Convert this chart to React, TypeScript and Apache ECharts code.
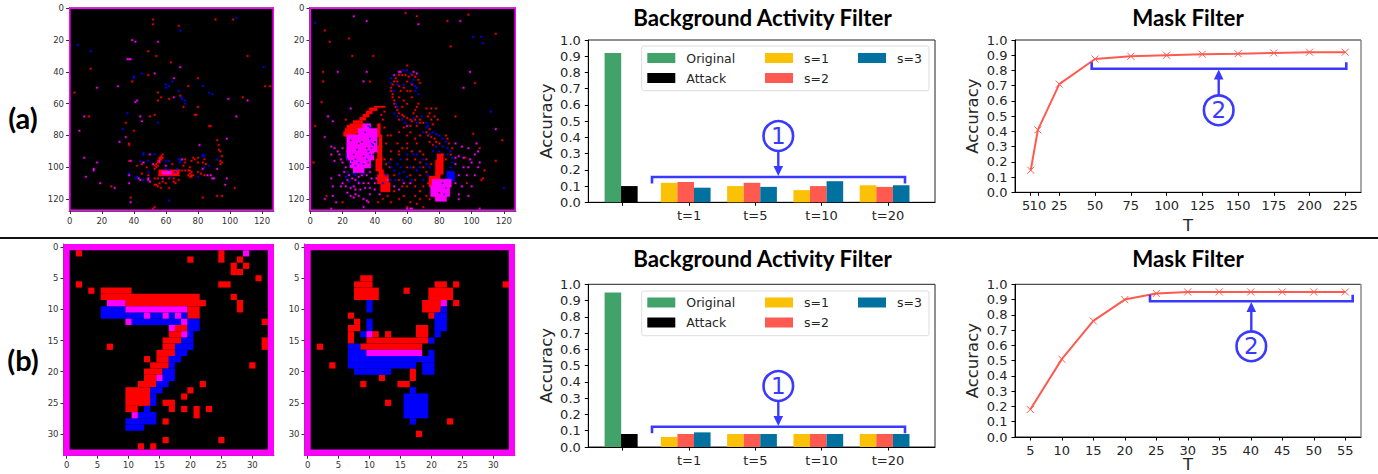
import React, { useEffect, useRef } from "react";
import * as echarts from "echarts";

// ---------- data ----------
const groupLabels = ["", "t=1", "t=5", "t=10", "t=20"];
const legendColumns = [["Original", "Attack"], ["s=1", "s=2"], ["s=3"]];

const barAOriginal = 0.92;
const barAAttack = 0.1;
const barAS1 = [0.12, 0.1, 0.075, 0.105];
const barAS2 = [0.125, 0.12, 0.1, 0.095];
const barAS3 = [0.09, 0.095, 0.13, 0.105];

const barBOriginal = 0.95;
const barBAttack = 0.08;
const barBS1 = [0.062, 0.08, 0.08, 0.08];
const barBS2 = [0.08, 0.08, 0.08, 0.08];
const barBS3 = [0.09, 0.08, 0.08, 0.08];

const maskAT = [5, 10, 25, 50, 75, 100, 125, 150, 175, 200, 225];
const maskAAcc = [0.145, 0.41, 0.71, 0.875, 0.893, 0.9, 0.907, 0.91, 0.915, 0.92, 0.92];
const maskBT = [5, 10, 15, 20, 25, 30, 35, 40, 45, 50, 55];
const maskBAcc = [0.18, 0.51, 0.76, 0.9, 0.94, 0.95, 0.95, 0.95, 0.95, 0.95, 0.95];

type P = number[];
// event frame (a) left: isolated events [x, y]
const a1Red: P[] = [[52,7],[52,10],[68,11],[91,7],[102,7],[49,27],[54,30],[111,30],[63,34],[13,38],[49,42],[39,46],[80,44],[3,53],[55,53],[74,49],[122,49],[125,49],[57,56],[69,55],[62,57],[108,56],[55,58],[71,62],[80,62],[12,68],[50,68],[53,67],[78,67],[79,67],[35,72],[87,74],[88,74],[40,77],[92,83],[37,85],[37,86],[93,86],[93,89],[94,90],[95,93],[95,97],[94,98],[94,96],[26,112],[103,113],[92,118],[95,118],[83,119],[38,119],[52,126],[53,125],
[58,92],[57,93],[56,94],[56,95],[55,96],[55,97],[54,98],[53,99],[54,100],[57,94],[58,94],[57,95],[56,97],[55,99],[53,101],
[75,100],[74,102],[75,104],[76,105],[77,105],[74,105],[75,102],[76,103],[75,106],[76,106],[72,95],[72,97],[71,99],[68,102],[84,95],[80,94],[77,94],[78,95],[76,96],[80,97],[83,97],[85,98],[80,103],[82,104],[84,105],[37,96],[42,99],[45,98],[48,100],[64,98],[45,104],[49,105],[53,107],[55,107],[56,105],[54,111],[53,111],[56,110],[58,109],[55,112],[57,113],[62,113],[60,110],[65,109],[66,110],[68,108],[65,107],[62,107],[70,102],[72,102]];
const a1Blue: P[] = [[104,6],[69,14],[5,23],[13,27],[121,37],[45,41],[40,43],[40,44],[64,46],[60,48],[60,50],[62,49],[68,52],[83,49],[87,53],[89,54],[70,56],[70,57],[72,58],[72,60],[36,66],[55,72],[33,76],[92,95],[62,121],
[46,91],[46,92],[44,96],[68,95],[69,96],[69,97],[83,92],[83,93],[84,93],[87,99],[84,100],[80,106],[37,104],[42,106],[41,107],[46,108],[49,103],[53,92],[49,96],[60,96],[62,96],[60,101],[62,102],[66,103],[63,106],[67,101]];
const a1Magenta: P[] = [[39,20],[41,21],[55,21],[36,32],[37,32],[38,32],[69,37],[53,41],[65,44],[30,49],[17,50],[65,56],[99,57],[111,58],[42,58],[41,59],[9,68],[44,68],[104,68],[45,71],[6,77],[35,81],[98,82],[31,84],[81,86],[9,94],[17,97],[15,101],[15,102],[10,106],[19,110],[28,113],[92,101],[98,107],[97,111],[38,122],
[70,95],[56,96],[83,101],[86,105],[88,105],[89,107],[90,107],[38,96],[46,97],[52,98],[50,92],[60,99],[37,105],[43,107],[44,108],[49,107],[49,108],[50,109],[37,110],[58,107]];
// event frame (a) left: dense blocks [x0, y0, x1, y1]
const a1RedBlocks: P[] = [[56,102,68,105]];
const a1MagentaBlocks: P[] = [[58,103,63,104]];

// event frame (a) right
const a2Red: P[] = [[59,3],[66,5],[98,4],[85,8],[9,14],[12,21],[24,19],[115,16],[87,24],[26,30],[39,30],[8,40],[8,46],[37,46],[102,47],[7,59],[90,68],[22,70],[3,74],[101,79],[119,83],[60,36],
[52,46],[51,48],[50,50],[50,52],[51,54],[51,56],[52,58],[52,60],[53,62],[54,64],[55,66],[57,67],[58,68],[60,69],[62,70],[63,71],[65,70],[66,68],[64,66],[65,64],[66,62],[67,60],[63,56],[60,52],[58,50],[55,49],[54,46],[53,44],[55,42],[57,42],[59,42],[61,43],[63,42],[65,43],[67,45],[68,47],[63,48],[60,46],[56,52],[62,52],[55,56],[58,58],[60,60],[57,62],[68,72],[70,72],[66,74],[68,70],[62,74],
[73,68],[75,70],[77,68],[79,70],[76,73],[74,76],[72,78],[73,80],[75,81],[77,82],[78,84],[80,85],[74,84],[76,86],[84,80],[85,82],[86,85],[88,88],[87,92],[82,92],[84,95],[74,66],[78,63],[72,63],[75,63],
[54,85],[55,90],[55,92],[57,88],[60,85],[63,90],[66,85],[68,90],[65,95],[60,95],[70,92],[72,95],[68,97],[64,100],[60,100],[70,100],[72,103],[68,105],[65,108],[62,105],[75,98],[50,95],[49,100],[46,95],[47,98],[52,105],[55,108],[57,112],[60,112],[65,112],[68,115],[70,112],[73,110],[72,118],[68,120],[65,118],[62,122],[60,125],[55,120],[50,122],[48,118],[45,120],[52,115],[58,118],[66,123],[70,125],[74,120],[60,80],[58,75],[55,78],[50,80],[46,75],[48,80],[47,85],[50,90],[45,70],[44,67],[46,65],[55,70],[62,78],[65,82],[60,88],[68,80],[107,107],[106,108],[97,110],[115,96],[108,102],[105,88],[96,94],[2,97],[10,118],[20,122],[42,122]];
const a2Blue: P[] = [[3,9],[101,18],[106,18],[107,22],[112,65],[120,113],
[50,44],[50,47],[58,39],[60,39],[62,41],[64,45],[63,47],[65,49],[66,50],[65,52],[67,54],[54,48],[52,52],[53,60],[54,62],[54,68],[57,70],[59,72],[64,69],[69,68],[72,72],[66,72],[52,66],[58,48],
[72,75],[74,79],[70,78],[73,74],[76,78],[78,79],[80,80],[82,82],[84,84],[82,87],[85,88],[87,90],[88,94],[88,97],[87,100],[86,103],[78,87],[80,90],[76,90],[85,92],
[49,97],[50,100],[52,102],[54,98],[47,105],[50,108],[53,108],[56,100],[58,103],[60,106],[62,100],[66,102],[68,100],[70,95],[72,98],[64,92],[60,92],[56,95],[66,92],[74,100],[55,104],[63,108],[70,108],[73,105],[45,110],[57,108],
[23,103],[24,105],[27,104],[30,103],[33,104],[22,106],[24,109],[28,105],[30,109]];
const a2Magenta: P[] = [[27,5],[35,8],[93,8],[67,10],[17,40],[35,40],[99,40],[33,46],[95,50],[25,63],[11,68],[14,71],[115,76],[9,81],[13,87],[56,40],[55,40],[64,40],[66,41],[52,42],[60,74],
[15,88],[17,90],[13,92],[18,92],[20,88],[19,95],[15,96],[20,97],[22,100],[18,105],[21,103],[24,105],[26,107],[23,108],[28,108],[30,106],[32,105],[35,105],[37,103],[38,107],[36,110],[33,110],[30,110],[27,112],[25,113],[28,114],[31,114],[34,113],[37,113],[40,110],[41,107],[28,117],[30,118],[27,119],[33,120],[35,121],[25,118],[40,114],[37,117],[43,117],[36,122],[33,125],[20,110],[13,107],[14,112],[16,122],[13,126],[9,120],[14,118],[23,116],[19,112],[22,112],[48,108],[52,112],[55,114],[58,110],[62,110],
[92,93],[95,94],[100,97],[102,92],[99,95],[104,90],[105,97],[104,100],[102,105],[98,100],[95,100],[92,105],[94,112],[90,110],[92,117],[98,118],[92,120],[105,126],[100,112],[97,105],[90,98],[90,94],[103,85],[94,87],[90,85],[98,88],[60,126],[62,126],[63,126]];
const a2RedBlocks: P[] = [[40,62,46,62],[37,63,41,64],[35,65,38,66],[33,67,36,68],[31,69,34,70],[27,71,32,72],[25,73,30,74],[23,74,28,75],[22,76,25,77],[21,78,23,80],[22,78,28,80],[24,76,31,78],[28,73,33,76],
[42,73,43,80],[43,80,44,87],[42,87,44,95],[41,95,44,102],[43,102,45,105],[42,105,48,110],[44,110,49,115],
[79,92,82,96],[78,96,82,104],[78,104,80,108],[74,106,78,112],[78,114,80,120]];
const a2BlueBlocks: P[] = [[85,103,89,108]];
const a2MagentaBlocks: P[] = [[33,73,37,76],[30,76,41,80],[23,80,41,90],[23,90,39,95],[25,95,37,100],[27,100,33,103],[76,108,84,112],[75,112,86,118],[78,118,84,121],[84,108,87,112]];
const a2BlobBlue: P[] = [[36,90],[37,92],[35,95],[30,97],[28,99],[33,98],[26,96],[37,82],[38,85],[36,74],[37,75],[23,95],[22,92],[25,98],[34,78],[39,86],[84,113],[83,117]];
const a2BlobBlack: P[] = [[25,83],[30,85],[38,88],[27,92],[36,97],[32,84],[28,95],[33,93],[39,92],[24,97],[40,84],[35,88],[29,89],[82,110],[80,116]];

// digit frames (b): blocks [x0, y0, x1, y1]
const b1Red: P[] = [[2,1,2,1],[25,1,25,2],[20,2,20,2],[28,2,28,2],[27,3,27,4],[29,3,29,3],[28,4,28,4],[31,5,31,5],[2,6,2,6],[25,6,26,6],[4,7,4,7],[6,7,10,7],[6,8,21,8],[27,8,27,8],[10,9,22,9],[28,9,28,10],[20,10,21,11],[32,12,32,12],[18,13,19,13],[17,14,18,14],[16,15,18,15],[32,15,32,16],[16,16,17,16],[7,16,7,16],[15,17,17,17],[15,18,16,18],[13,18,13,18],[14,19,16,19],[30,19,30,19],[13,20,15,20],[13,21,14,21],[12,22,14,22],[22,22,22,22],[10,23,13,25],[20,23,20,23],[19,24,19,24],[16,25,17,25],[10,26,11,26],[17,26,17,26],[19,26,19,26],[21,26,21,27],[23,26,23,26],[16,28,16,28],[16,31,16,31],[25,31,25,31],[12,32,12,32],[14,32,14,32]];
const b1Blue: P[] = [[6,10,9,11],[10,11,12,11],[14,11,15,11],[17,11,17,11],[19,11,19,11],[11,12,19,12],[20,12,21,13],[20,14,20,14],[19,15,20,15],[18,16,20,16],[18,17,19,17],[17,18,18,18],[17,19,17,19],[16,20,17,21],[15,22,16,22],[14,23,15,23],[14,24,14,25],[13,26,13,26],[12,27,14,27],[10,28,14,28],[10,29,12,29]];
const b1Magenta: P[] = [[29,1,29,1],[7,9,9,9],[10,10,19,10],[13,11,13,11],[16,11,16,11],[18,11,18,11],[10,12,10,12],[19,12,19,12],[17,13,17,13],[19,14,19,14],[15,21,15,21],[11,27,11,27]];
const b2Red: P[] = [[9,5,10,5],[8,6,10,6],[21,6,22,6],[24,6,24,6],[32,6,32,6],[8,7,11,8],[16,7,16,7],[20,7,23,8],[19,9,21,10],[24,9,24,9],[7,11,7,11],[20,11,20,11],[8,12,8,12],[7,13,8,13],[18,13,19,14],[7,14,7,15],[11,14,11,14],[13,14,13,14],[10,15,19,15],[2,16,2,16],[9,16,18,16],[4,19,4,19],[17,20,17,21],[12,21,12,21],[9,22,9,22],[15,22,16,22],[13,25,13,25],[23,28,23,28],[18,30,18,30]];
const b2Blue: P[] = [[10,9,10,10],[22,10,22,10],[21,11,22,13],[10,12,10,13],[9,14,9,14],[21,14,21,14],[20,15,20,15],[7,16,8,16],[7,17,9,17],[20,17,20,17],[7,18,20,18],[7,19,17,19],[19,19,20,20],[8,20,13,20],[17,23,17,23],[16,24,19,27],[17,28,17,28]];
const b2Magenta: P[] = [[22,9,22,9],[10,14,10,14],[10,17,18,17]];

// ---------- styling ----------
const GREEN = "#41A36A";
const YELLOW = "#FBC107";
const RED = "#FF5A50";
const TEAL = "#01719F";
const ANNOT = "#3A3AFF";
const FONT = "'DejaVu Sans'";
const TITLEFONT = "Lato";

const toBlocks = (pts: P[]) => pts.map((p) => [p[0], p[1], p[0], p[1]]);

function blockSeries(idx: number, data: P[], color: string, halo: number) {
  return {
    type: "custom",
    xAxisIndex: idx,
    yAxisIndex: idx,
    silent: true,
    encode: { x: [0, 2], y: [1, 3] },
    data,
    renderItem: (_: any, api: any) => {
      const a = api.coord([api.value(0) - 0.5, api.value(1) - 0.5]);
      const b = api.coord([api.value(2) + 0.5, api.value(3) + 0.5]);
      const core = { type: "rect", shape: { x: a[0], y: a[1], width: b[0] - a[0], height: b[1] - a[1] }, style: { fill: color } };
      if (!halo) return core;
      return {
        type: "group",
        children: [
          { type: "rect", shape: { x: a[0] - halo, y: a[1] - halo, width: b[0] - a[0] + 2 * halo, height: b[1] - a[1] + 2 * halo }, style: { fill: color, opacity: 0.22 } },
          core,
        ],
      };
    },
  };
}

function frameBorder(idx: number, max: number) {
  const border = [[0, 0, max, 0], [0, max, max, max], [0, 0, 0, max], [max, 0, max, max]];
  return blockSeries(idx, border, "#FF00FF", 0);
}

function frameAxes(idx: number, max: number, step: number) {
  const ticks: number[] = [];
  for (let v = 0; v <= max; v += step) ticks.push(v);
  const common = {
    gridIndex: idx,
    type: "value",
    min: -0.5,
    max: max + 0.5,
    splitLine: { show: false },
    axisLine: { onZero: false, lineStyle: { color: "#555", width: 1 } },
    axisTick: { length: 3, lineStyle: { color: "#333" }, customValues: ticks },
    axisLabel: { fontFamily: FONT, fontSize: 8.5, color: "#333", margin: 5, customValues: ticks },
  };
  return { x: { ...common }, y: { ...common, inverse: true } };
}

const tenth = (v: number) => v.toFixed(1);

function accAxis(idx: number, gap: number) {
  return {
    gridIndex: idx,
    type: "value",
    min: 0,
    max: 1,
    interval: 0.1,
    name: "Accuracy",
    nameLocation: "middle",
    nameGap: gap,
    nameTextStyle: { fontFamily: FONT, fontSize: 16.5, color: "#262626" },
    splitLine: { show: false },
    axisLine: { show: true, onZero: false, lineStyle: { color: "#000" } },
    axisTick: { show: true, length: 3.5, lineStyle: { color: "#000" } },
    axisLabel: { fontFamily: FONT, fontSize: 13, color: "#262626", margin: 7.5, formatter: tenth },
  };
}

const BAR_W = 16.6;
function barSeries(idx: number, orig: number, atk: number, s1: number[], s2: number[], s3: number[]) {
  const base = { type: "bar", xAxisIndex: idx, yAxisIndex: idx, barWidth: BAR_W, barGap: "-100%", silent: true };
  const shifted = (vals: number[], off: number) => vals.map((v, i) => [i + 1 - 0.05 + off, v]);
  return [
    { ...base, name: "Original", itemStyle: { color: GREEN }, data: [[-0.148, orig]] },
    { ...base, name: "Attack", itemStyle: { color: "#000" }, data: [[0.1, atk]] },
    { ...base, name: "s=1", itemStyle: { color: YELLOW }, data: shifted(s1, -0.25) },
    { ...base, name: "s=2", itemStyle: { color: RED }, data: shifted(s2, 0) },
    { ...base, name: "s=3", itemStyle: { color: TEAL }, data: shifted(s3, 0.25) },
  ];
}

function lineSeries(idx: number, xs: number[], ys: number[]) {
  return {
    type: "line",
    xAxisIndex: idx,
    yAxisIndex: idx,
    silent: true,
    data: xs.map((x, i) => [x, ys[i]]),
    lineStyle: { color: RED, width: 2 },
    symbol: "path://M0 0L10 10M10 0L0 10",
    symbolSize: 7,
    showAllSymbol: true,
    itemStyle: { color: "rgba(0,0,0,0)", borderColor: RED, borderWidth: 1 },
  };
}

function legends(top: number) {
  const lefts = [647.3, 765, 858];
  return legendColumns.map((names, i) => ({
    orient: "vertical",
    left: lefts[i],
    top,
    padding: 0,
    itemWidth: 28,
    itemHeight: 10,
    itemGap: 5,
    icon: "rect",
    selectedMode: false,
    data: names,
    z: 10,
    textStyle: { fontFamily: FONT, fontSize: 12.5, color: "#262626", lineHeight: 15, padding: [0, 0, 0, 6] },
  }));
}

function annotation(cx: number, cy: number, label: string, bx0: number, bx1: number, by: number, legDir: number, arrowX: number, arrowFromY: number, arrowToY: number) {
  const dir = arrowToY > arrowFromY ? 1 : -1;
  const stroke = { stroke: ANNOT, lineWidth: 2.6, fill: "none" };
  return [
    { type: "polyline", z: 20, shape: { points: [[bx0, by + legDir * 6.5], [bx0, by], [bx1, by], [bx1, by + legDir * 6.5]] }, style: stroke },
    { type: "line", z: 20, shape: { x1: arrowX, y1: arrowFromY, x2: arrowX, y2: arrowToY - dir * 5 }, style: { stroke: ANNOT, lineWidth: 2.4 } },
    { type: "polygon", z: 20, shape: { points: [[arrowX, arrowToY], [arrowX - 4.8, arrowToY - dir * 10], [arrowX + 4.8, arrowToY - dir * 10]] }, style: { fill: ANNOT } },
    { type: "circle", z: 20, shape: { cx, cy, r: 14.8 }, style: stroke },
    { type: "text", z: 21, style: { x: cx, y: cy, text: label, align: "center", verticalAlign: "middle", fontFamily: FONT, fontSize: 23, fill: ANNOT } },
  ];
}

function buildOption() {
  const frame = (left: number, top: number, width: number, height: number) => ({ left, top, width, height, backgroundColor: "#000", show: true, borderWidth: 0, outerBoundsMode: "none" });
  const plot = (left: number, top: number, width: number, height: number) => ({ left, top, width, height, show: true, borderColor: "#222", borderWidth: 1, outerBoundsMode: "none" });
  const grids = [
    frame(69, 7.5, 205, 203.5),
    frame(309.5, 7.5, 206.5, 203.5),
    frame(63.5, 244, 210.5, 211.7),
    frame(304.5, 244, 210.5, 211.7),
    plot(588.3, 40, 346.7, 162.3),
    plot(588.3, 284.3, 346.7, 162.7),
    plot(1015, 40, 346, 152.3),
    plot(1015, 284.3, 346, 152.7),
  ];

  const f0 = frameAxes(0, 127, 20);
  const f1 = frameAxes(1, 127, 20);
  const f2 = frameAxes(2, 33, 5);
  const f3 = frameAxes(3, 33, 5);

  const barX = (idx: number) => ({
    gridIndex: idx,
    type: "value",
    min: -0.519,
    max: 4.71,
    splitLine: { show: false },
    axisLine: { onZero: false, lineStyle: { color: "#000" } },
    axisTick: { length: 3.5, lineStyle: { color: "#000" }, customValues: [0, 1, 2, 3, 4] },
    axisLabel: {
      fontFamily: FONT, fontSize: 13, color: "#262626", margin: 7,
      customValues: [0, 1, 2, 3, 4],
      formatter: (v: number) => groupLabels[Math.round(v)],
    },
  });
  // the first label value is a blank placeholder at the axis minimum, so that the
  // tight "5" and "10" labels are both kept; nudgeFive moves the "5" left of its tick
  const lineX = (idx: number, min: number, max: number, ticks: number[], nudgeFive: boolean, nameGap: number) => ({
    gridIndex: idx,
    type: "value",
    min,
    max,
    name: "T",
    nameLocation: "middle",
    nameGap,
    nameMoveOverlap: false,
    nameTextStyle: { fontFamily: FONT, fontSize: 16.5, color: "#262626", lineHeight: 12 },
    splitLine: { show: false },
    axisLine: { onZero: false, lineStyle: { color: "#000" } },
    axisTick: { length: 3.5, lineStyle: { color: "#000" }, customValues: ticks },
    axisLabel: {
      fontFamily: FONT, fontSize: 13, color: "#262626", margin: 7,
      customValues: [min, ...ticks],
      hideOverlap: false,
      formatter: (v: number) => {
        if (v === min) return " ";
        if (nudgeFive && v === 5) return "{five|5}";
        return String(v);
      },
      rich: { five: { fontFamily: FONT, fontSize: 13, color: "#262626", padding: [0, 9, 0, 0] } },
    },
  });

  const titleOf = (text: string, x: number, top: number) => ({
    text,
    left: x,
    top,
    textAlign: "center",
    padding: 0,
    textStyle: { fontFamily: TITLEFONT, fontWeight: "bold", fontSize: 22.3, color: "#000" },
  });

  const legendBox = (y: number) => ({
    type: "rect",
    z: 1,
    shape: { x: 641.7, y, width: 287.3, height: 44.7, r: 2 },
    style: { fill: "#fff", stroke: "#DDDDDD", lineWidth: 1 },
  });

  return {
    animation: false,
    backgroundColor: "#fff",
    title: [
      titleOf("Background Activity Filter", 762.5, 6),
      titleOf("Mask Filter", 1188, 6),
      titleOf("Background Activity Filter", 762.5, 247),
      titleOf("Mask Filter", 1188, 247),
    ],
    legend: [...legends(50.5), ...legends(295)],
    grid: grids,
    xAxis: [f0.x, f1.x, f2.x, f3.x, barX(4), barX(5),
      lineX(6, -6, 236, maskAT, true, 27), lineX(7, 2.57, 57.5, maskBT, false, 21)],
    yAxis: [f0.y, f1.y, f2.y, f3.y, accAxis(4, 33), accAxis(5, 33), accAxis(6, 34), accAxis(7, 34)],
    series: [
      blockSeries(0, toBlocks(a1Red).concat(a1RedBlocks), "#FF0000", 0.7),
      blockSeries(0, toBlocks(a1Blue), "#0000FF", 0.7),
      blockSeries(0, toBlocks(a1Magenta).concat(a1MagentaBlocks), "#FF00FF", 0.7),
      frameBorder(0, 127),
      blockSeries(1, toBlocks(a2Red).concat(a2RedBlocks), "#FF0000", 0.7),
      blockSeries(1, toBlocks(a2Blue).concat(a2BlueBlocks), "#0000FF", 0.7),
      blockSeries(1, a2MagentaBlocks.concat(toBlocks(a2Magenta)), "#FF00FF", 0.7),
      blockSeries(1, toBlocks(a2BlobBlue), "#0000FF", 0),
      blockSeries(1, toBlocks(a2BlobBlack), "#3A0A3A", 0),
      frameBorder(1, 127),
      blockSeries(2, b1Red, "#FF0000", 0),
      blockSeries(2, b1Blue, "#0000FF", 0),
      blockSeries(2, b1Magenta, "#FF00FF", 0),
      frameBorder(2, 33),
      blockSeries(3, b2Red, "#FF0000", 0),
      blockSeries(3, b2Blue, "#0000FF", 0),
      blockSeries(3, b2Magenta, "#FF00FF", 0),
      frameBorder(3, 33),
      ...barSeries(4, barAOriginal, barAAttack, barAS1, barAS2, barAS3),
      ...barSeries(5, barBOriginal, barBAttack, barBS1, barBS2, barBS3),
      lineSeries(6, maskAT, maskAAcc),
      lineSeries(7, maskBT, maskBAcc),
    ],
    graphic: {
      elements: [
        { type: "rect", z: 5, shape: { x: 0, y: 237, width: 1378, height: 2 }, style: { fill: "#111" } },
        { type: "text", z: 5, style: { x: 23, y: 117, text: "(a)", align: "center", verticalAlign: "middle", fontFamily: TITLEFONT, fontWeight: "bold", fontSize: 29, fill: "#000" } },
        { type: "text", z: 5, style: { x: 23, y: 359, text: "(b)", align: "center", verticalAlign: "middle", fontFamily: TITLEFONT, fontWeight: "bold", fontSize: 29, fill: "#000" } },
        legendBox(46),
        legendBox(291),
        { type: "line", z: 5, shape: { x1: 1361, y1: 40, x2: 1361, y2: 192 }, style: { stroke: "#BDBDBD", lineWidth: 1 } },
        { type: "line", z: 5, shape: { x1: 1361, y1: 284, x2: 1361, y2: 437 }, style: { stroke: "#BDBDBD", lineWidth: 1 } },
        ...annotation(778.3, 136, "1", 652, 905, 177, 1, 778.3, 152, 176),
        ...annotation(778.3, 386, "1", 652, 905, 426.7, 1, 778.3, 401.5, 426),
        ...annotation(1218.7, 110.3, "2", 1091.7, 1346.3, 68.7, -1, 1218.7, 95, 69.5),
        ...annotation(1251.3, 346.3, "2", 1150, 1352.7, 301.3, -1, 1251.3, 331.5, 302),
      ],
    },
  };
}

export default function App() {
  const ref = useRef<HTMLDivElement>(null);
  useEffect(() => {
    if (!ref.current) return;
    const chart = echarts.init(ref.current, undefined, { renderer: "svg" });
    chart.setOption(buildOption() as any);
    return () => chart.dispose();
  }, []);
  return <div ref={ref} style={{ position: "fixed", left: 0, top: 0, width: 1378, height: 474 }} />;
}
